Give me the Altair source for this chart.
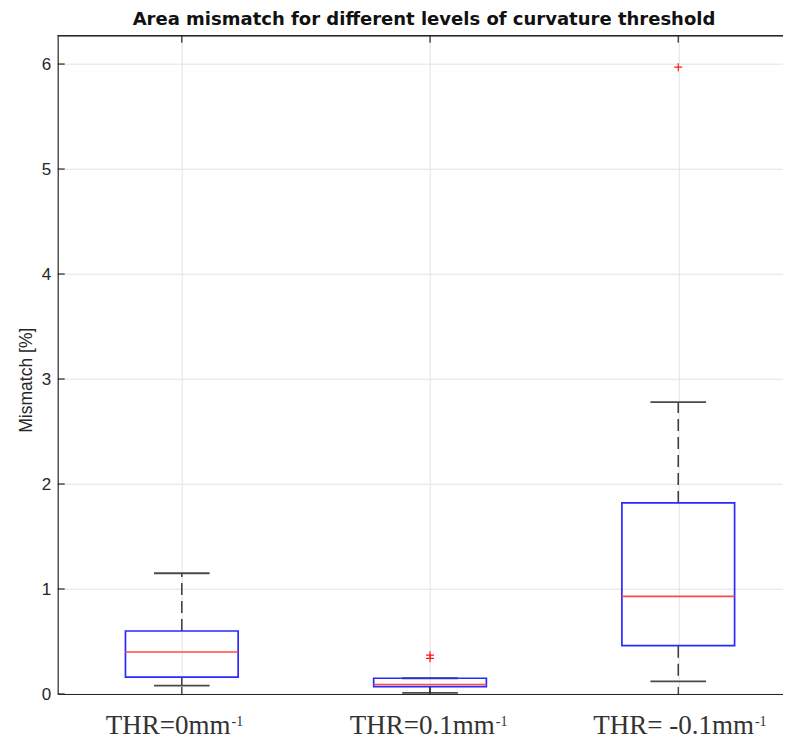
import altair as alt
import pandas as pd

# ---------------- data ----------------
TITLE = "Area mismatch for different levels of curvature threshold"
Y_TITLE = "Mismatch [%]"
categories = ["THR=0mm", "THR=0.1mm", "THR= -0.1mm"]
label_sup = ["-1", "-1", "-1"]
positions = [1, 2, 3]
lower_whisker = [0.08, 0.01, 0.12]
q1 = [0.16, 0.07, 0.46]
median = [0.40, 0.09, 0.93]
q3 = [0.60, 0.15, 1.82]
upper_whisker = [1.15, 0.15, 2.78]
outlier_pos = [2, 2, 3]
outlier_val = [0.37, 0.34, 5.97]
y_ticks = [0, 1, 2, 3, 4, 5, 6]
x_ticks = [1, 2, 3]
Y_MAX = 6.27
X_MIN, X_MAX = 0.5, 3.422

# ---------------- styles ----------------
W, H = 725.3, 658.3
BOX_HALF = 0.227
CAP_HALF = 0.112
TICK_LEN = 7
AX_COLOR = "#262626"
GRID_COLOR = "#e2e2e2"
LABEL_DX = [48.7, 64.8, 75.7]
LABEL_Y = [697.8, 698.3, 697.8]

box_df = pd.DataFrame({
    "pos": positions, "lw": lower_whisker, "q1": q1, "med": median,
    "q3": q3, "uw": upper_whisker,
})
out_df = pd.DataFrame({"pos": outlier_pos, "val": outlier_val})
ytick_df = pd.DataFrame({"t": y_ticks})
xtick_df = pd.DataFrame({"pos": x_ticks})

xs = alt.Scale(domain=[X_MIN, X_MAX], nice=False, zero=False)
ys = alt.Scale(domain=[0, Y_MAX], nice=False, zero=False)

XAX = alt.Axis(values=x_ticks, labels=False, ticks=False, grid=True, domain=True,
               title=None, gridColor=GRID_COLOR, gridWidth=1,
               domainColor=AX_COLOR, domainWidth=1.2)
YAX = alt.Axis(values=y_ticks, ticks=False, grid=True, domain=True,
               labelFontSize=17, labelFont="Liberation Sans", labelColor=AX_COLOR,
               labelPadding=7, gridColor=GRID_COLOR, gridWidth=1,
               domainColor=AX_COLOR, domainWidth=1.2,
               title=Y_TITLE, titleFont="Liberation Sans", titleFontSize=17.5,
               titleFontWeight="normal", titleColor=AX_COLOR,
               titleX=-26, titleY=344, titleAlign="center", titleBaseline="alphabetic")


def X(field):
    return alt.X(field, type="quantitative", scale=xs, axis=XAX)


def Y(field):
    return alt.Y(field, type="quantitative", scale=ys, axis=YAX)


base = alt.Chart(box_df).transform_calculate(
    box_lo=f"datum.pos - {BOX_HALF}", box_hi=f"datum.pos + {BOX_HALF}",
    cap_lo=f"datum.pos - {CAP_HALF}", cap_hi=f"datum.pos + {CAP_HALF}",
)

WHISK = dict(color="#3a3a3a", strokeWidth=1.5, strokeDash=[12, 6])
whisk_up = base.mark_rule(**WHISK).encode(x=X("pos"), y=Y("q3"), y2="uw:Q")
whisk_lo = base.mark_rule(**WHISK).encode(x=X("pos"), y=Y("q1"), y2="lw:Q")
cap_up = base.mark_rule(color="#4a4a4a", strokeWidth=1.8).encode(
    x=X("cap_lo"), x2="cap_hi:Q", y=Y("uw"))
cap_lo = base.mark_rule(color="#4a4a4a", strokeWidth=1.8).encode(
    x=X("cap_lo"), x2="cap_hi:Q", y=Y("lw"))
boxes = base.mark_rect(fillOpacity=0, stroke="#2a2aff", strokeWidth=1.7).encode(
    x=X("box_lo"), x2="box_hi:Q", y=Y("q1"), y2="q3:Q")
medians = base.mark_rule(color="#ff4a4a", strokeWidth=1.6).encode(
    x=X("box_lo"), x2="box_hi:Q", y=Y("med"))

outliers = alt.Chart(out_df).mark_point(
    shape="M-1,0L1,0M0,-1L0,1", filled=False, size=64, color="#ff1a1a",
    strokeWidth=1.2, opacity=1).encode(x=X("pos"), y=Y("val"))

yticks_in = alt.Chart(ytick_df).mark_rule(color=AX_COLOR, strokeWidth=1.2).encode(
    y=Y("t"), x=alt.value(0), x2=alt.value(TICK_LEN))
xticks_top = alt.Chart(xtick_df).mark_rule(color=AX_COLOR, strokeWidth=1.2).encode(
    x=X("pos"), y=alt.value(0), y2=alt.value(TICK_LEN))
xticks_bot = alt.Chart(xtick_df).mark_rule(color=AX_COLOR, strokeWidth=1.2).encode(
    x=X("pos"), y=alt.value(H), y2=alt.value(H - TICK_LEN))
top_border = alt.Chart(xtick_df).mark_rule(color=AX_COLOR, strokeWidth=1.2).encode(
    x=alt.value(0), x2=alt.value(W), y=alt.value(0))

title = alt.Chart(pd.DataFrame({"t": [TITLE]})).mark_text(
    font="DejaVu Sans", fontSize=18, fontWeight="bold", color="#111",
    align="center", baseline="alphabetic").encode(
    text="t:N", x=alt.value(366.3), y=alt.value(-11.0))

label_layers = []
for i in range(3):
    d = pd.DataFrame({"pos": [positions[i]], "base": [categories[i]], "sup": [label_sup[i]]})
    label_layers.append(alt.Chart(d).mark_text(
        font="Liberation Serif", fontSize=27, color="#333", align="right",
        baseline="alphabetic", dx=LABEL_DX[i]).encode(
        x=X("pos"), y=alt.value(LABEL_Y[i]), text="base:N"))
    label_layers.append(alt.Chart(d).mark_text(
        font="Liberation Serif", fontSize=14, color="#333", align="left",
        baseline="alphabetic", dx=LABEL_DX[i] + 1).encode(
        x=X("pos"), y=alt.value(LABEL_Y[i] - 8), text="sup:N"))

chart = alt.layer(
    whisk_up, whisk_lo, cap_up, cap_lo, boxes, medians, outliers,
    yticks_in, xticks_top, xticks_bot, top_border, title, *label_layers
).properties(
    width=W, height=H,
    padding={"left": 49.7, "top": 27.7, "right": 0, "bottom": 46},
    autosize=alt.AutoSizeParams(type="none"),
    background="white",
).configure_view(stroke=None)

chart.save("out.html", embed_options={"renderer": "svg", "actions": False})
